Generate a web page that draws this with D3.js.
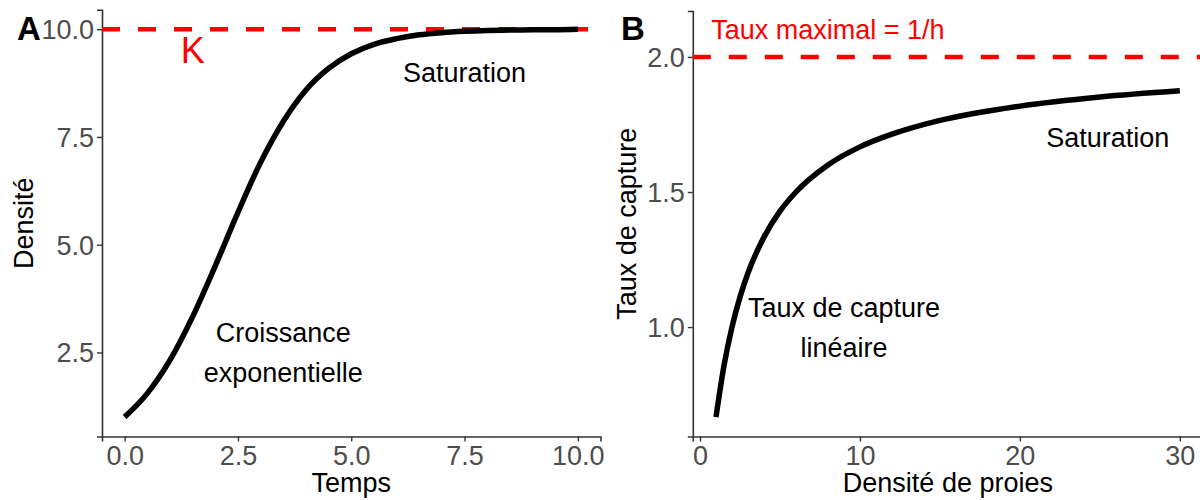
<!DOCTYPE html>
<html>
<head>
<meta charset="utf-8">
<script src="https://cdn.jsdelivr.net/npm/d3@7"></script>
<style>
  body { margin: 0; background: #fff; }
  text { font-family: "Liberation Sans", Arial, sans-serif; }
</style>
</head>
<body>
<div id="chart"></div>
<script>

// Panel A : croissance logistique
var temps = [0, 0.5, 1, 1.5, 2, 2.5, 3, 3.5, 4, 4.5, 5, 5.5, 6, 6.5, 7, 7.5, 8, 8.5, 9, 9.5, 10];
var densite = [1.0, 1.55, 2.32, 3.33, 4.51, 5.75, 6.91, 7.86, 8.59, 9.09, 9.43, 9.65, 9.78, 9.87, 9.92, 9.95, 9.97, 9.98, 9.99, 9.99, 10.0];
var capaciteK = 10;
var ticksA_x = [0, 2.5, 5, 7.5, 10];
var ticksA_y = [2.5, 5, 7.5, 10];

// Panel B : reponse fonctionnelle type II
var proies = [1, 1.5, 2, 2.5, 3, 4, 5, 6, 8, 10, 12, 15, 20, 25, 30];
var capture = [0.667, 0.857, 1.0, 1.111, 1.2, 1.333, 1.429, 1.5, 1.6, 1.667, 1.714, 1.765, 1.818, 1.852, 1.875];
var tauxMax = 2;
var ticksB_x = [0, 10, 20, 30];
var ticksB_y = [1.0, 1.5, 2.0];

var width = 1200;
var height = 500;

var svg = d3.select("#chart")
  .append("svg")
  .attr("width", width)
  .attr("height", height);

var fontSize = 27;
var tickColor = "#4d4d4d";

var drawPanel = (opts) => {

  var g = svg.append("g");

  var x = d3.scaleLinear().domain(opts.xDomain).range(opts.xRange);
  var y = d3.scaleLinear().domain(opts.yDomain).range(opts.yRange);

  // axes
  var axisX = g.append("g")
    .attr("transform", "translate(0," + opts.yRange[0] + ")")
    .call(d3.axisBottom(x).tickValues(opts.ticksX).tickFormat(opts.fmtX).tickSizeOuter(0).tickSize(5).tickPadding(4));

  var axisY = g.append("g")
    .attr("transform", "translate(" + opts.xRange[0] + ",0)")
    .call(d3.axisLeft(y).tickValues(opts.ticksY).tickFormat(opts.fmtY).tickSizeOuter(0).tickSize(5).tickPadding(3));

  [axisX, axisY].forEach(function(a) {
    a.select(".domain").attr("stroke", "#333").attr("stroke-width", 1.6);
    a.selectAll(".tick line").attr("stroke", "#333").attr("stroke-width", 1.4);
    a.selectAll(".tick text")
      .attr("fill", tickColor)
      .style("font-size", fontSize + "px")
      .style("font-family", "'Liberation Sans', Arial, sans-serif");
  });
  axisY.selectAll(".tick text").attr("dy", "0.35em");

  // red dashed horizontal line
  g.append("line")
    .attr("x1", opts.xRange[0])
    .attr("x2", opts.xRange[1])
    .attr("y1", y(opts.hline))
    .attr("y2", y(opts.hline))
    .attr("stroke", "#ff0000")
    .attr("stroke-width", 4.5)
    .attr("stroke-dasharray", "18,18");

  // curve
  var line = d3.line()
    .x(function(d) { return x(d[0]); })
    .y(function(d) { return y(d[1]); })
    .curve(d3.curveMonotoneX);

  g.append("path")
    .datum(opts.xs.map(function(v, i) { return [v, opts.ys[i]]; }))
    .attr("d", line)
    .attr("fill", "none")
    .attr("stroke", "#000")
    .attr("stroke-width", 5.5);

  // annotations
  opts.labels.forEach(function(l) {
    var lines = l.text.split("\n");
    var lh = 40;
    var y0 = y(l.y) - (lines.length - 1) * lh / 2;
    lines.forEach(function(t, i) {
      g.append("text")
        .attr("x", x(l.x))
        .attr("y", y0 + i * lh)
        .attr("dy", "0.35em")
        .attr("text-anchor", "middle")
        .attr("fill", l.color || "#000")
        .style("font-size", (l.size || fontSize) + "px")
        .text(t);
    });
  });

  // axis titles
  g.append("text")
    .attr("x", (opts.xRange[0] + opts.xRange[1]) / 2)
    .attr("y", 492)
    .attr("text-anchor", "middle")
    .style("font-size", fontSize + "px")
    .text(opts.titleX);

  g.append("text")
    .attr("transform", "translate(" + opts.titleYx + "," + ((opts.yRange[0] + opts.yRange[1]) / 2) + ") rotate(-90)")
    .attr("text-anchor", "middle")
    .style("font-size", fontSize + "px")
    .text(opts.titleY);

  // panel letter
  g.append("text")
    .attr("x", opts.tag[0])
    .attr("y", opts.tag[1])
    .style("font-size", "33px")
    .style("font-weight", "bold")
    .text(opts.tagText);
}

drawPanel({
  xs: temps, ys: densite,
  xDomain: [-0.5, 10.5], xRange: [102, 600.5],
  yDomain: [0.55, 10.45], yRange: [436.5, 9.8],
  ticksX: ticksA_x, ticksY: ticksA_y,
  fmtX: d3.format(".1f"), fmtY: d3.format(".1f"),
  hline: capaciteK,
  labels: [
    {x: 1.5, y: 9.5, text: "K", color: "#ff0000", size: 36},
    {x: 7.5, y: 9, text: "Saturation"},
    {x: 3.5, y: 2.5, text: "Croissance\nexponentielle"}
  ],
  titleX: "Temps", titleY: "Densité", titleYx: 33,
  tag: [17, 40], tagText: "A"
});

drawPanel({
  xs: proies, ys: capture,
  xDomain: [-0.45, 31.45], xRange: [692.8, 1203],
  yDomain: [0.595, 2.17], yRange: [436.5, 11],
  ticksX: ticksB_x, ticksY: ticksB_y,
  fmtX: d3.format("d"), fmtY: d3.format(".1f"),
  hline: tauxMax,
  labels: [
    {x: 8, y: 2.1, text: "Taux maximal = 1/h", color: "#ff0000"},
    {x: 25.5, y: 1.7, text: "Saturation"},
    {x: 9, y: 1.0, text: "Taux de capture\nlinéaire"}
  ],
  titleX: "Densité de proies", titleY: "Taux de capture", titleYx: 636,
  tag: [621, 40], tagText: "B"
});

</script>
</body>
</html>
